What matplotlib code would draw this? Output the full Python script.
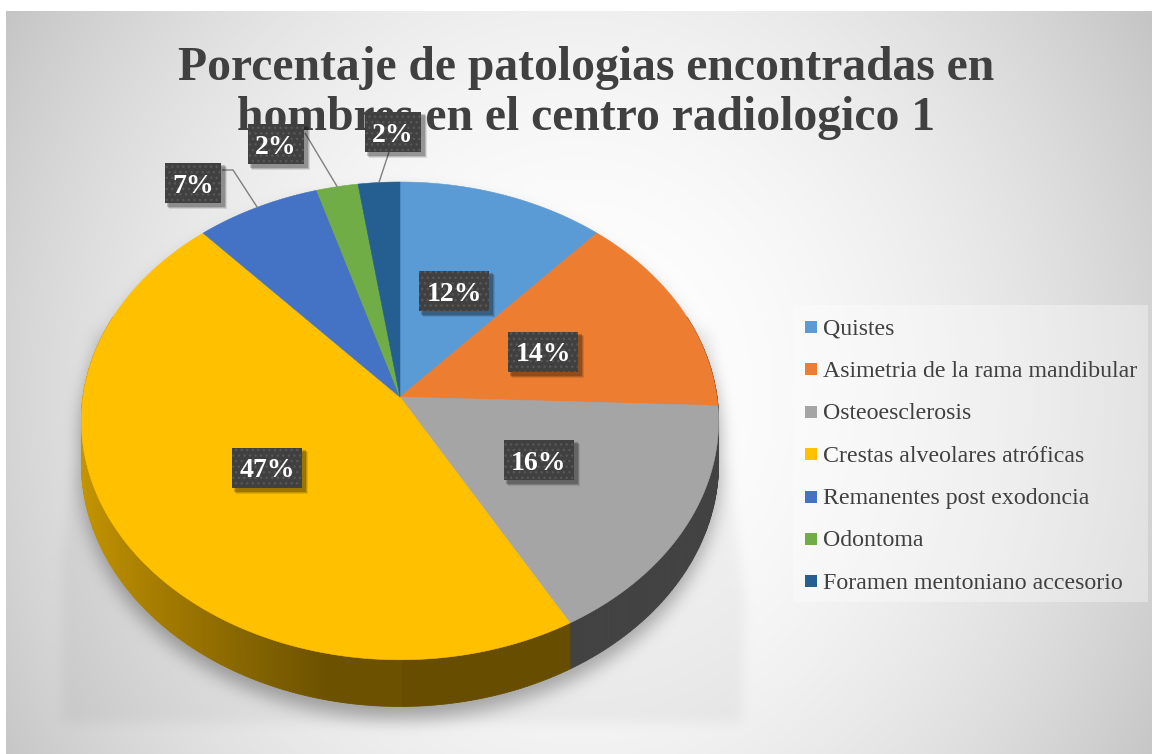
import numpy as np
import matplotlib
matplotlib.use("Agg")
import matplotlib.pyplot as plt
from matplotlib.patches import Polygon, Rectangle
from matplotlib.collections import PolyCollection
from matplotlib.path import Path
from matplotlib.colors import to_rgb

# ---------------- data ----------------
title = "Porcentaje de patologias encontradas en\nhombres en el centro radiologico 1"
categories = ["Quistes", "Asimetria de la rama mandibular", "Osteoesclerosis",
              "Crestas alveolares atróficas", "Remanentes post exodoncia",
              "Odontoma", "Foramen mentoniano accesorio"]
counts = [5, 6, 7, 20, 3, 1, 1]
colors = ["#5B9BD5", "#ED7D31", "#A5A5A5", "#FFC000", "#4472C4", "#70AD47", "#255E91"]

# ---------------- layout ----------------
W, H = 1152, 754
CX, CY = 400.0, 397.0       # pie centre (px)
A, B = 317.0, 236.5         # pie radii (px)
K = 0.10                    # perspective strength
DEP = 42.0                  # pie thickness (px)

plt.rcParams["font.family"] = ["Liberation Serif", "DejaVu Serif"]

fig = plt.figure(figsize=(W / 100, H / 100), dpi=100)
ax = fig.add_axes([0, 0, 1, 1])
ax.set_xlim(0, W)
ax.set_ylim(H, 0)
ax.axis("off")


def proj(t_deg, rho=1.0, z=0.0):
    t = np.radians(t_deg)
    u = rho * np.sin(t)
    v = -rho * np.cos(t)
    s = 1.0 / (1.0 - K * v)
    return CX + A * u * s, CY + B * v * s + z * DEP * s


# ---------------- background (gradient + shadow) ----------------
yy, xx = np.mgrid[0:H, 0:W] + 0.5
r2 = ((xx - 578) / 668.0) ** 2 + ((yy - 395) / 737.0) ** 2
bg = 255 - 58 * r2


def box1d(a, r, axis):
    a = np.moveaxis(a, axis, 0)
    p = np.pad(a, ((r + 1, r),) + ((0, 0),) * (a.ndim - 1), mode="edge")
    c = np.cumsum(p, axis=0)
    out = (c[2 * r + 1:] - c[:-2 * r - 1]) / (2 * r + 1)
    return np.moveaxis(out, 0, axis)


def blur(img, r):
    for _ in range(3):
        img = box1d(img, r, 0)
        img = box1d(img, r, 1)
    return img


pts = np.column_stack([xx.ravel(), yy.ravel()])
tt = np.linspace(0, 360, 361)
ex, ey = proj(tt)
bx, by = proj(tt, z=1.0)
m1 = Path(np.column_stack([ex, ey + 12])).contains_points(pts)
m2 = Path(np.column_stack([bx, by + 12])).contains_points(pts)
mask = (m1 | m2).reshape(H, W).astype(float)
sh = blur(mask, 8)
# perspective shadow region
trap = Path([(92, 330), (712, 330), (745, 600), (742, 723), (62, 723), (62, 560)])
tm = trap.contains_points(pts).reshape(H, W).astype(float)
tm = blur(tm, 5)
bg = bg * (1 - 0.30 * sh) * (1 - 0.045 * tm)
bg = np.clip(bg, 0, 255) / 255.0
img = np.dstack([bg, bg, bg])
img[:11, :, :] = 1.0
img[:, :6, :] = 1.0
ax.imshow(img, extent=(0, W, H, 0), interpolation="nearest", zorder=0, aspect="auto")

# ---------------- pie ----------------
total = float(sum(counts))
cum = np.concatenate([[0], np.cumsum(counts)]) / total * 360.0

side_polys, side_cols, side_keys = [], [], []
for i, c in enumerate(colors):
    base = np.array(to_rgb(c))
    a0, a1 = cum[i], cum[i + 1]
    n = max(2, int((a1 - a0) / 0.5))
    aa = np.linspace(a0, a1, n + 1)
    for j in range(n):
        mid = 0.5 * (aa[j] + aa[j + 1])
        v = -np.cos(np.radians(mid))
        if v < -0.35:
            continue
        u = np.sin(np.radians(mid))
        if u < 0:
            f = 0.42 + 0.36 * np.clip((-u - 0.2) / 0.8, 0, 1)
        else:
            f = 0.40
        x0, y0 = proj(aa[j]); x1, y1 = proj(aa[j + 1])
        x2, y2 = proj(aa[j + 1], z=1.0); x3, y3 = proj(aa[j], z=1.0)
        side_polys.append([(x0, y0), (x1, y1), (x2, y2), (x3, y3)])
        side_cols.append(tuple(base * f))
        side_keys.append(v)
order = np.argsort(side_keys)
side_polys = [side_polys[k] for k in order]
side_cols = [side_cols[k] for k in order]
ax.add_collection(PolyCollection(side_polys, facecolors=side_cols, edgecolors=side_cols,
                                 linewidths=0.6, zorder=2))

for i, c in enumerate(colors):
    a0, a1 = cum[i], cum[i + 1]
    aa = np.linspace(a0, a1, max(3, int((a1 - a0) / 0.5)))
    px, py = proj(aa)
    poly = [(CX, CY)] + list(zip(px, py))
    ax.add_patch(Polygon(poly, closed=True, facecolor=c, edgecolor=c, lw=0.4, zorder=3))

# ---------------- title ----------------
ax.text(586, 130, title, ha="center", va="baseline", fontsize=34.3, fontweight="bold",
        color="#404040", linespacing=1.17, zorder=1)

# ---------------- data labels ----------------
pct = [f"{round(100 * c / total):.0f}%" for c in counts]
LFS = 20
# label box centres: inside slices computed, outside ones placed like the reference
centers = []
for i in range(len(counts)):
    mid = 0.5 * (cum[i] + cum[i + 1])
    centers.append(proj(mid, rho=0.5))
outside = {4: (193, 183), 5: (276, 144), 6: (393, 132)}
leader_start = {4: [(222, 170), (233, 170)], 5: [(305, 133)], 6: [(389, 152)]}
for i, p in outside.items():
    centers[i] = p

texts = []
for i, (x, y) in enumerate(centers):
    t = ax.text(x, y + 0.345 * LFS / 0.72, pct[i], ha="center", va="baseline", fontsize=LFS,
                fontweight="bold", color="white", zorder=8)
    texts.append(t)

fig.canvas.draw()
r = fig.canvas.get_renderer()
for i, (x, y) in enumerate(centers):
    bb = texts[i].get_window_extent(r)
    w = bb.width + 14
    h = 40
    if i in leader_start:
        mid = 0.5 * (cum[i] + cum[i + 1])
        ex_, ey_ = proj(mid)
        pts_l = leader_start[i] + [(ex_, ey_)]
        ax.plot([p[0] for p in pts_l], [p[1] for p in pts_l], color="#7F7F7F", lw=1.0, zorder=4,
                solid_capstyle="butt")
    for k, (o, al) in enumerate([(5, 0.10), (4, 0.15), (3, 0.2)]):
        ax.add_patch(Rectangle((x - w / 2 + o - 1, y - h / 2 + o - 1), w + 2, h + 2,
                               facecolor="black", alpha=al, lw=0, zorder=5))
    ax.add_patch(Rectangle((x - w / 2, y - h / 2), w, h, facecolor="#404040",
                           edgecolor="#575757", hatch="...", lw=0, zorder=6))

# ---------------- legend ----------------
ax.add_patch(Rectangle((793, 305), 355, 297, facecolor="white", alpha=0.35, lw=0, zorder=1))
LEG_FS = 17.2
for i, (name, c) in enumerate(zip(categories, colors)):
    yc = 327 + 42.4 * i
    ax.add_patch(Rectangle((805, yc - 6), 12, 12, facecolor=c, lw=0, zorder=6))
    ax.text(823, yc + 7.5, name, ha="left", va="baseline", fontsize=LEG_FS,
            color="#404040", zorder=6)

fig.savefig("out.png", dpi=100)
